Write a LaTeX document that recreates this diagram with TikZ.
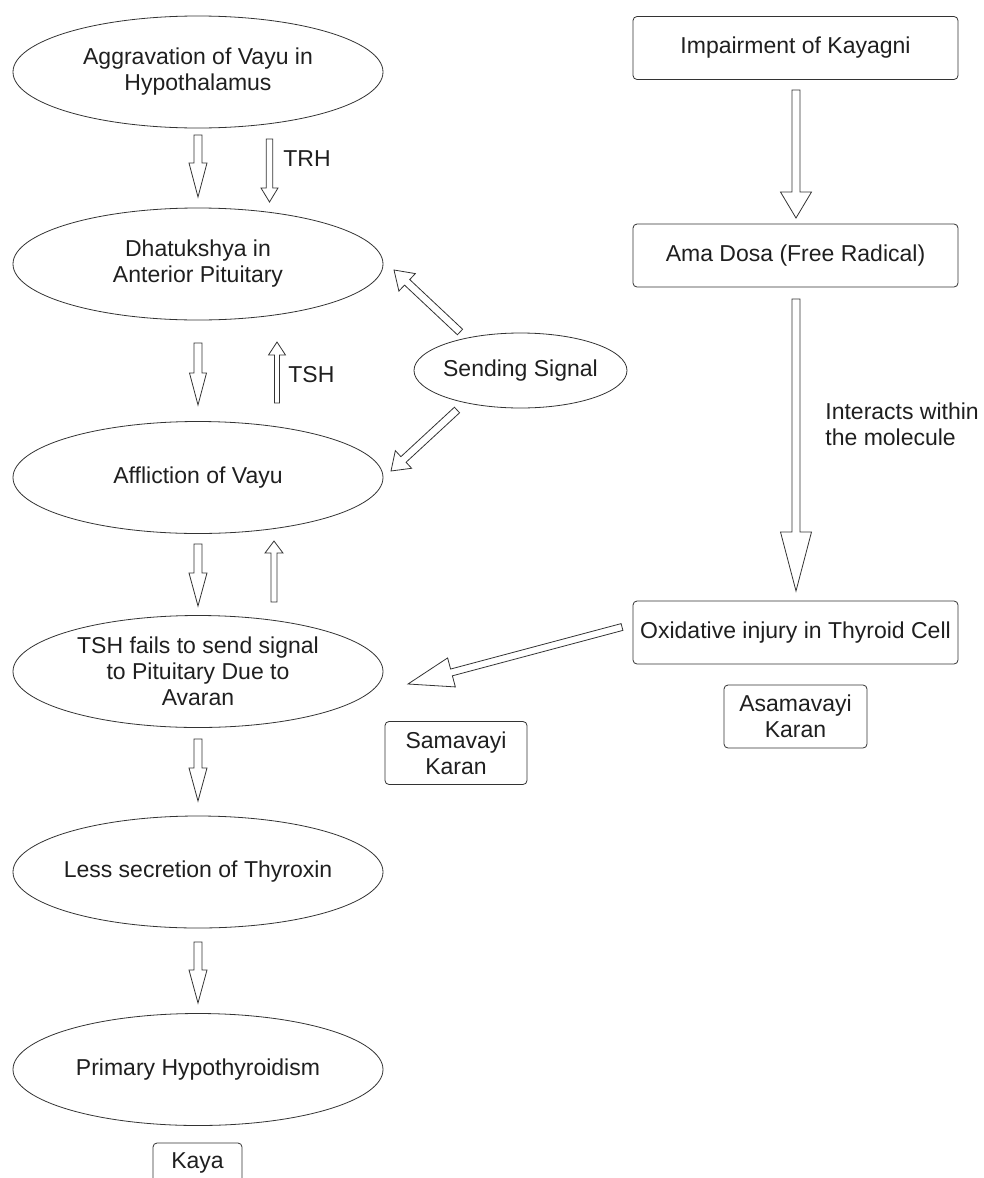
\documentclass[tikz,border=0pt]{standalone}
\usepackage{fontspec}
\setmainfont{Liberation Sans}
\usetikzlibrary{shapes.geometric,calc}
\newcommand\barrow[5]{%
  \coordinate (bh) at ($(#2)!#5!(#1)$);
  \draw[line join=miter] ($(#1)!#3!90:(#2)$) -- ($(bh)!#3!-90:(#1)$) -- ($(bh)!#4!-90:(#1)$) -- (#2) -- ($(bh)!#4!90:(#1)$) -- ($(bh)!#3!90:(#1)$) -- ($(#1)!#3!-90:(#2)$) -- cycle;
}
\begin{document}
\begin{tikzpicture}[x=1pt,y=-1pt,
  every node/.style={font=\fontsize{23}{26}\selectfont, text=black!88},
  ell/.style={draw, ellipse, minimum width=370pt, minimum height=112pt, inner xsep=-30pt, inner ysep=-6pt, align=center},
  rbox/.style={draw, rounded corners=4pt, minimum width=325pt, minimum height=63pt, inner sep=2pt, align=center},
  sbox/.style={draw, rounded corners=4pt, minimum width=143pt, minimum height=63pt, inner sep=0pt, align=center},
  lbl/.style={anchor=west, inner sep=0pt, align=left},
  line width=0.8pt, draw=black!80]
\useasboundingbox (0,0) rectangle (984,1178);

% left column
\node[ell] (hyp) at (198,72) {Aggravation of Vayu in\\Hypothalamus};
\node[ell] (ant) at (198,264) {Dhatukshya in\\Anterior Pituitary};
\node[ell] (aff) at (198,477.5) {Affliction of Vayu};
\node[ell] (tsh) at (198,671.5) {TSH fails to send signal\\to Pituitary Due to\\Avaran};
\node[ell] (less) at (198,872) {Less secretion of Thyroxin};
\node[ell] (prim) at (198,1069.5) {Primary Hypothyroidism};
\node[draw, ellipse, minimum width=213pt, minimum height=75pt, inner sep=-10pt] (send) at (520.5,370.5) {Sending Signal};

% right column
\node[rbox] (imp) at (795.5,48) {Impairment of Kayagni};
\node[rbox] (ama) at (795.5,255.5) {Ama Dosa (Free Radical)};
\node[rbox] (oxi) at (795.5,632.5) {Oxidative injury in Thyroid Cell};
\node[sbox] (asa) at (795.5,716.5) {Asamavayi\\Karan};
\node[sbox, minimum width=142pt] (sam) at (456,753) {Samavayi\\Karan};

% labels
\node[lbl] (trh) at (283,159) {TRH};
\node[lbl] (tshl) at (288,375) {TSH};
\node[lbl] (inter) at (825,424.5) {Interacts within\\the molecule};

% Kaya box (cut by the lower edge)
\node[inner sep=0pt] (kaya) at (197.5,1163) {Kaya};
\draw[rounded corners=4pt] (153,1178) |- (242,1143) -- (242,1178);

% arrow end points
\coordinate (a1s) at (198,135);   \coordinate (a1e) at (198,197);
\coordinate (t1s) at (269.5,139); \coordinate (t1e) at (269.5,202);
\coordinate (a2s) at (198,343);   \coordinate (a2e) at (198,405);
\coordinate (t2s) at (277,403);   \coordinate (t2e) at (277,342);
\coordinate (a3s) at (198,544);   \coordinate (a3e) at (198,606);
\coordinate (t3s) at (274,602);   \coordinate (t3e) at (274,541);
\coordinate (a4s) at (198,739);   \coordinate (a4e) at (198,801);
\coordinate (a5s) at (198,942);   \coordinate (a5e) at (198,1003);
\coordinate (r1s) at (796,90);    \coordinate (r1e) at (796,218);
\coordinate (r2s) at (796,299);   \coordinate (r2e) at (796,591);
\coordinate (s1s) at (460,332);   \coordinate (s1e) at (394,270);
\coordinate (s2s) at (457,410);   \coordinate (s2e) at (391,471);
\coordinate (o1s) at (622,627);   \coordinate (o1e) at (408,684);

\barrow{a1s}{a1e}{4pt}{9pt}{34pt}
\barrow{t1s}{t1e}{3.2pt}{8.5pt}{14pt}
\barrow{a2s}{a2e}{4pt}{8.5pt}{32pt}
\barrow{t2s}{t2e}{2.5pt}{8.5pt}{13pt}
\barrow{a3s}{a3e}{4pt}{9pt}{33pt}
\barrow{t3s}{t3e}{3pt}{9pt}{12pt}
\barrow{a4s}{a4e}{4pt}{9pt}{33pt}
\barrow{a5s}{a5e}{4pt}{9pt}{33pt}
\barrow{r1s}{r1e}{4pt}{15.5pt}{26pt}
\barrow{r2s}{r2e}{4pt}{15.5pt}{59pt}
\barrow{s1s}{s1e}{3.8pt}{12pt}{18pt}
\barrow{s2s}{s2e}{3.8pt}{12pt}{17pt}
\barrow{o1s}{o1e}{3.5pt}{15pt}{45pt}
\end{tikzpicture}
\end{document}
